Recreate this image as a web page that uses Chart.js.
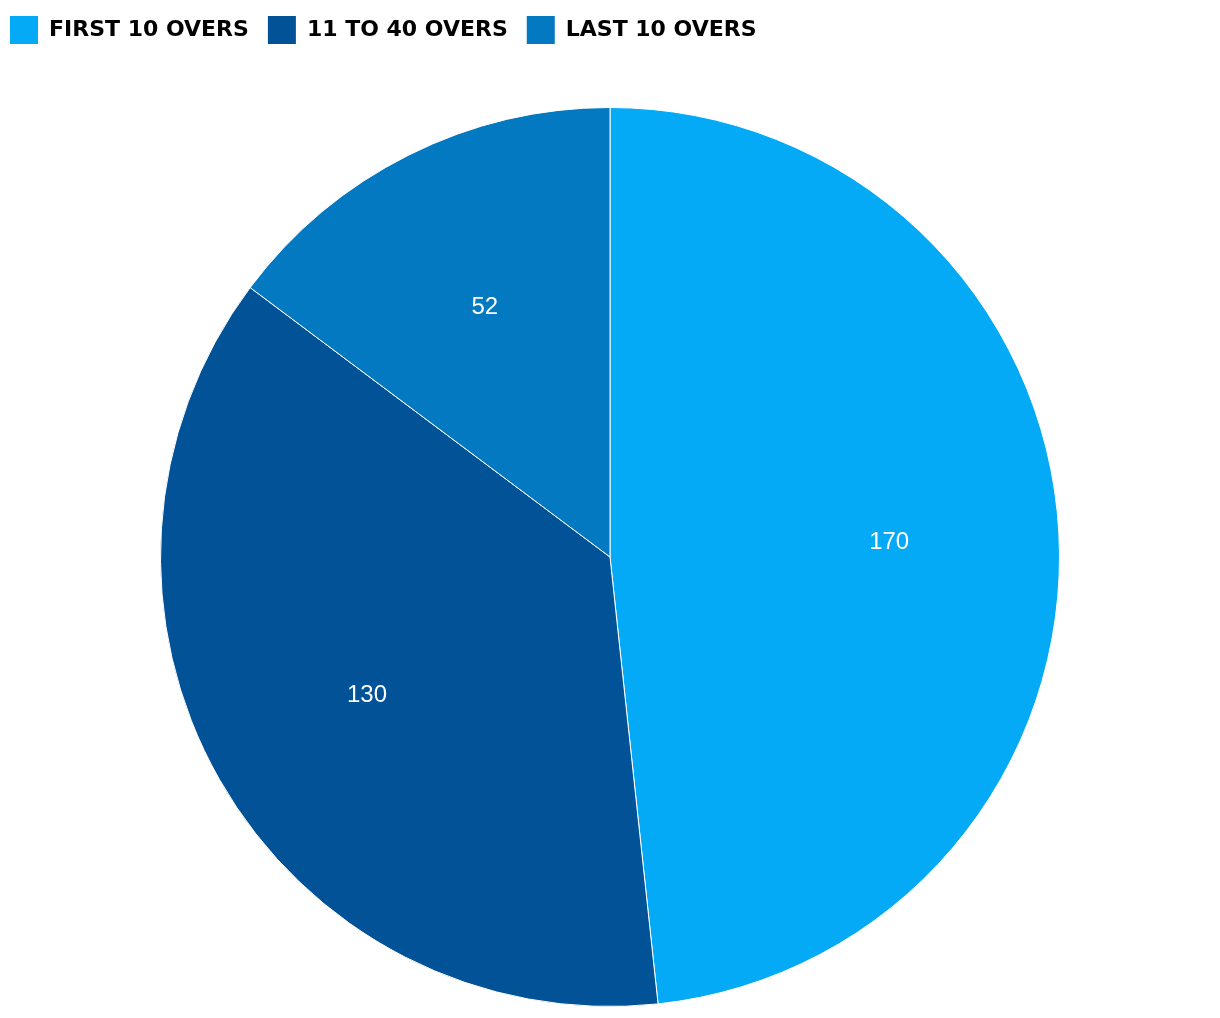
<!DOCTYPE html>
<html>
<head>
<meta charset="utf-8">
<script src="https://cdn.jsdelivr.net/npm/chart.js@4/dist/chart.umd.min.js"></script>
<style>
  html, body { margin: 0; padding: 0; background: #ffffff; }
  #wrap { width: 1220px; height: 1018px; position: relative; }
</style>
</head>
<body>
<div id="wrap"><canvas id="c"></canvas></div>
<script>
const categories = ["FIRST 10 OVERS", "11 TO 40 OVERS", "LAST 10 OVERS"];
const runs = [170, 130, 52];
const sliceColors = ["#04AAF5", "#015296", "#0279C0"];

const legendSpacer = {
  id: 'legendSpacer',
  beforeInit(chart) {
    const origFit = chart.legend.fit;
    chart.legend.fit = function () {
      origFit.call(this);
      this.height += 53;
    };
  }
};

const sliceLabels = {
  id: 'sliceLabels',
  afterDatasetsDraw(chart) {
    const ctx = chart.ctx;
    const meta = chart.getDatasetMeta(0);
    const data = chart.data.datasets[0].data;
    ctx.save();
    ctx.font = '24px "Liberation Sans", Arial, sans-serif';
    ctx.fillStyle = '#ffffff';
    ctx.textAlign = 'center';
    ctx.textBaseline = 'middle';
    meta.data.forEach((arc, i) => {
      const p = arc.getProps(['x', 'y', 'startAngle', 'endAngle', 'outerRadius'], true);
      const mid = (p.startAngle + p.endAngle) / 2;
      const r = p.outerRadius * 0.622;
      ctx.fillText(String(data[i]), p.x + Math.cos(mid) * r, p.y + Math.sin(mid) * r);
    });
    ctx.restore();
  }
};

new Chart(document.getElementById('c'), {
  type: 'pie',
  data: {
    labels: categories,
    datasets: [{
      data: runs,
      backgroundColor: sliceColors,
      borderColor: '#ffffff',
      borderWidth: 1
    }]
  },
  options: {
    responsive: true,
    maintainAspectRatio: false,
    animation: false,
    layout: { padding: { top: -3, bottom: 11, left: -9, right: -9 } },
    plugins: {
      legend: {
        position: 'top',
        align: 'start',
        labels: {
          boxWidth: 28,
          boxHeight: 28,
          padding: 19,
          color: '#000000',
          font: { family: '"DejaVu Sans", sans-serif', size: 22, weight: 'bold' },
          generateLabels(chart) {
            const items = Chart.controllers.pie.overrides.plugins.legend.labels.generateLabels(chart);
            items.forEach(it => { it.lineWidth = 0; it.strokeStyle = 'rgba(0,0,0,0)'; });
            return items;
          }
        }
      },
      tooltip: { enabled: false }
    }
  },
  plugins: [legendSpacer, sliceLabels]
});
</script>
</body>
</html>
